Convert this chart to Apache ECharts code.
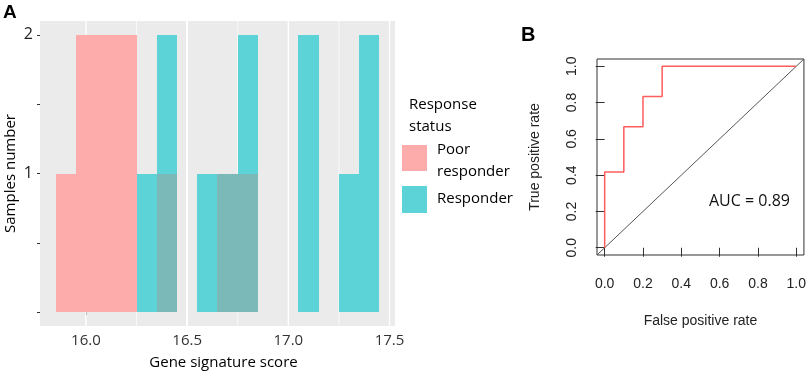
<!DOCTYPE html>
<html>
<head>
<meta charset="utf-8">
<script src="https://cdn.jsdelivr.net/npm/echarts@6/dist/echarts.min.js"></script>
<style>
  html, body { margin: 0; padding: 0; background: #fff; }
  #chart { width: 809px; height: 375px; }
</style>
</head>
<body>
<div id="chart"></div>
<script>
// histogram bins (left edges, width 0.1)
const binStarts = [15.85, 15.95, 16.05, 16.15, 16.25, 16.35, 16.45, 16.55, 16.65, 16.75, 16.85, 16.95, 17.05, 17.15, 17.25, 17.35];
const binWidth = 0.1;
const poorCounts = [1, 2, 2, 2, 0, 1, 0, 0, 1, 1, 0, 0, 0, 0, 0, 0];
const responderCounts = [0, 0, 0, 0, 1, 2, 0, 1, 1, 2, 0, 0, 2, 0, 1, 2];

// panel A ticks
const histXTicks = [16.0, 16.5, 17.0, 17.5];
const histXMinor = [16.25, 16.75, 17.25];
const histYTicks = [0, 0.5, 1, 1.5, 2];
const histYLabels = [1, 2];
const histYMinor = [0.25, 0.75, 1.25, 1.75];

// panel B: ROC curve
const rocFpr = [0, 0, 0.1, 0.1, 0.2, 0.2, 0.3, 0.3, 1];
const rocTpr = [0, 0.417, 0.417, 0.667, 0.667, 0.833, 0.833, 1, 1];
const rocTicks = [0, 0.2, 0.4, 0.6, 0.8, 1.0];
const aucText = 'AUC = 0.89';

const PINK = '#FDACAB';
const CYAN = '#5CD4D7';
const OVERLAP = '#7BB8B8';
const SANS = '"Open Sans", sans-serif';
const RFONT = '"Liberation Sans", Arial, sans-serif';

const chart = echarts.init(document.getElementById('chart'), null, { renderer: 'canvas' });

const overlapCounts = poorCounts.map((p, i) => Math.min(p, responderCounts[i]));

const barItem = (color) => (params, api) => {
  const x0 = api.value(0);
  const n = api.value(1);
  if (!n) return null;
  const p0 = api.coord([x0, 0]);
  const p1 = api.coord([x0 + binWidth, n]);
  // snap to whole pixels so neighbouring bins join without seams
  const left = Math.round(p0[0]);
  const right = Math.round(p1[0]);
  const top = Math.round(p1[1]);
  const bottom = Math.round(p0[1]);
  return {
    type: 'rect',
    shape: { x: left, y: top, width: right - left, height: bottom - top },
    style: { fill: color }
  };
};

// white ggplot grid lines, drawn through the axis scales
const gridData = [];
histXTicks.forEach(v => gridData.push([v, 0, 1.4]));
histXMinor.forEach(v => gridData.push([v, 0, 0.7]));
histYTicks.forEach(v => gridData.push([16.5, v, 1.4, 1]));
histYMinor.forEach(v => gridData.push([16.5, v, 0.7, 1]));

const option = {
  animation: false,
  backgroundColor: '#fff',
  grid: [
    { left: 40, top: 21, width: 355, height: 307, show: true, backgroundColor: '#EBEBEB', borderWidth: 0 },
    { left: 597, top: 59, width: 207, height: 196, show: true, backgroundColor: '#fff', borderColor: '#333', borderWidth: 1 }
  ],
  xAxis: [
    {
      type: 'value', gridIndex: 0, min: 15.773, max: 17.527,
      axisLine: { show: false },
      axisTick: { show: true, customValues: histXTicks, length: 3, lineStyle: { color: '#333' } },
      axisLabel: { customValues: histXTicks, formatter: v => v.toFixed(1), color: '#333', fontSize: 15, fontFamily: SANS, margin: 7 },
      splitLine: { show: false },
      name: 'Gene signature score', nameLocation: 'middle', nameGap: 29,
      nameTextStyle: { color: '#000', fontSize: 15, fontFamily: SANS, padding: [0, 0, 0, 12] }
    },
    {
      type: 'value', gridIndex: 1, min: -0.04, max: 1.04,
      axisLine: { show: false },
      axisTick: { show: true, customValues: rocTicks, length: 9, lineStyle: { color: '#333' } },
      axisLabel: { customValues: rocTicks, formatter: v => v.toFixed(1), color: '#222', fontSize: 14, fontFamily: RFONT, margin: 22 },
      splitLine: { show: false },
      name: 'False positive rate', nameLocation: 'middle', nameGap: 59,
      nameTextStyle: { color: '#222', fontSize: 14, fontFamily: RFONT }
    }
  ],
  yAxis: [
    {
      type: 'value', gridIndex: 0, min: -0.1, max: 2.1,
      axisLine: { show: false },
      axisTick: { show: true, customValues: histYTicks, length: 3, lineStyle: { color: '#333' } },
      axisLabel: { customValues: histYLabels, formatter: v => String(v), color: '#222', fontSize: 16, fontFamily: SANS, margin: 7 },
      splitLine: { show: false },
      name: 'Samples number', nameLocation: 'middle', nameGap: 22,
      nameTextStyle: { color: '#000', fontSize: 15, fontFamily: SANS }
    },
    {
      type: 'value', gridIndex: 1, min: -0.04, max: 1.04,
      axisLine: { show: false },
      axisTick: { show: true, customValues: rocTicks, length: 9, lineStyle: { color: '#333' } },
      axisLabel: { customValues: rocTicks, formatter: v => v.toFixed(1), rotate: 90, color: '#222', fontSize: 14, fontFamily: RFONT, margin: 18 },
      splitLine: { show: false },
      name: 'True positive rate', nameLocation: 'middle', nameGap: 55,
      nameTextStyle: { color: '#222', fontSize: 14, fontFamily: RFONT }
    }
  ],
  series: [
    {
      type: 'custom', xAxisIndex: 0, yAxisIndex: 0, z: 1, silent: true,
      data: gridData,
      renderItem: (params, api) => {
        const cs = params.coordSys;
        const w = api.value(2);
        if (api.value(3) === 1) {
          const y = api.coord([16.5, api.value(1)])[1];
          return { type: 'line', shape: { x1: cs.x, y1: y, x2: cs.x + cs.width, y2: y }, style: { stroke: '#fff', lineWidth: w } };
        }
        const x = api.coord([api.value(0), 0])[0];
        return { type: 'line', shape: { x1: x, y1: cs.y, x2: x, y2: cs.y + cs.height }, style: { stroke: '#fff', lineWidth: w } };
      }
    },
    {
      name: 'Responder', type: 'custom', xAxisIndex: 0, yAxisIndex: 0, z: 2,
      data: binStarts.map((b, i) => [b, responderCounts[i]]),
      renderItem: barItem(CYAN)
    },
    {
      name: 'Poor responder', type: 'custom', xAxisIndex: 0, yAxisIndex: 0, z: 3,
      data: binStarts.map((b, i) => [b, poorCounts[i]]),
      renderItem: barItem(PINK)
    },
    {
      name: 'overlap', type: 'custom', xAxisIndex: 0, yAxisIndex: 0, z: 4,
      data: binStarts.map((b, i) => [b, overlapCounts[i]]),
      renderItem: barItem(OVERLAP)
    },
    {
      type: 'line', xAxisIndex: 1, yAxisIndex: 1, z: 2,
      data: [[-0.04, -0.04], [1.04, 1.04]],
      symbol: 'none', lineStyle: { color: '#555', width: 1 }
    },
    {
      type: 'line', xAxisIndex: 1, yAxisIndex: 1, z: 3,
      data: rocFpr.map((f, i) => [f, rocTpr[i]]),
      symbol: 'none', lineStyle: { color: '#FF5C5C', width: 1.5 }
    }
  ],
  graphic: [
    { type: 'text', left: 3, top: 3, style: { text: 'A', font: 'bold 19px ' + RFONT, fill: '#000' } },
    { type: 'text', left: 521, top: 25, style: { text: 'B', font: 'bold 20px ' + RFONT, fill: '#000' } },
    { type: 'text', x: 409, y: 105, style: { text: 'Response', font: '15px ' + SANS, fill: '#000', verticalAlign: 'middle' } },
    { type: 'text', x: 409, y: 127, style: { text: 'status', font: '15px ' + SANS, fill: '#000', verticalAlign: 'middle' } },
    { type: 'rect', shape: { x: 402, y: 145, width: 25, height: 26 }, style: { fill: PINK } },
    { type: 'rect', shape: { x: 402, y: 186, width: 25, height: 27 }, style: { fill: CYAN } },
    { type: 'text', x: 437, y: 150, style: { text: 'Poor', font: '15px ' + SANS, fill: '#000', verticalAlign: 'middle' } },
    { type: 'text', x: 437, y: 172, style: { text: 'responder', font: '15px ' + SANS, fill: '#000', verticalAlign: 'middle' } },
    { type: 'text', x: 437, y: 199, style: { text: 'Responder', font: '15px ' + SANS, fill: '#000', verticalAlign: 'middle' } },
    { type: 'text', x: 709, y: 201, style: { text: aucText, font: '16px ' + SANS, fill: '#111', verticalAlign: 'middle' } }
  ]
};

chart.setOption(option);
</script>
</body>
</html>
